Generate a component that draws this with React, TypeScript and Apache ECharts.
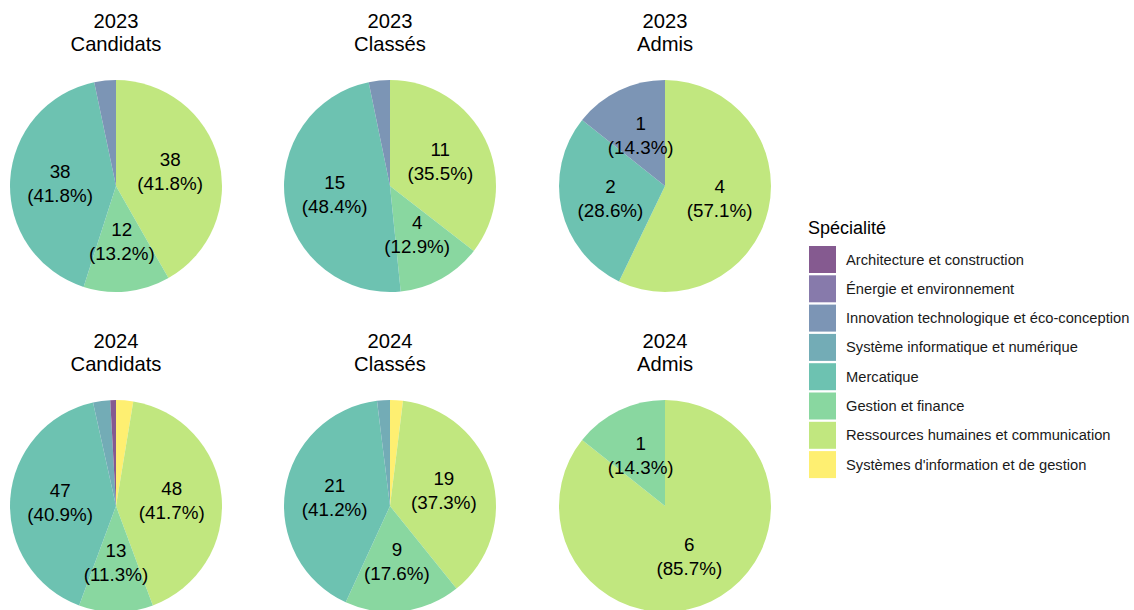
import React, { useEffect, useRef } from 'react';
import * as echarts from 'echarts';

// Categories in legend order
const categories = [
  'Architecture et construction',
  'Énergie et environnement',
  'Innovation technologique et éco-conception',
  'Système informatique et numérique',
  'Mercatique',
  'Gestion et finance',
  'Ressources humaines et communication',
  "Systèmes d'information et de gestion",
];
const categoryColors = ['#855A90', '#877AAB', '#7C95B5', '#73ACB6', '#6DC2B1', '#89D7A0', '#C1E77F', '#FEEF71'];

const panelYears = ['2023', '2023', '2023', '2024', '2024', '2024'];
const panelStages = ['Candidats', 'Classés', 'Admis', 'Candidats', 'Classés', 'Admis'];

// Values per panel, in legend (category) order
const candidats2023 = [0, 0, 3, 0, 38, 12, 38, 0];
const classes2023 = [0, 0, 1, 0, 15, 4, 11, 0];
const admis2023 = [0, 0, 1, 0, 2, 0, 4, 0];
const candidats2024 = [1, 0, 0, 3, 47, 13, 48, 3];
const classes2024 = [0, 0, 0, 1, 21, 9, 19, 1];
const admis2024 = [0, 0, 0, 0, 0, 1, 6, 0];
const panelValues = [candidats2023, classes2023, admis2023, candidats2024, classes2024, admis2024];

const labelMinShare = 0.05;
const legendTitle = 'Spécialité';

const FONT = '"Liberation Sans", Arial, Helvetica, sans-serif';

export default function App() {
  const ref = useRef<HTMLDivElement>(null);

  useEffect(() => {
    if (!ref.current) return;
    const chart = echarts.init(ref.current, null, { renderer: 'svg' });

    const colX = [116, 390, 665];
    const rowY = [186, 506];
    const radius = 106;

    const series: any[] = [];
    const titles: any[] = [];
    panelValues.forEach((vals, p) => {
      const cx = colX[p % 3];
      const cy = rowY[Math.floor(p / 3)];
      const total = vals.reduce((a, b) => a + b, 0);
      const order = categories.map((_, i) => i).reverse();
      const data = order.map((i) => {
        const share = total ? vals[i] / total : 0;
        return {
          name: categories[i],
          value: vals[i],
          itemStyle: { color: categoryColors[i] },
          label: {
            show: share >= labelMinShare,
            formatter: `${vals[i]}\n(${(share * 100).toFixed(1)}%)`,
          },
        };
      });
      series.push({
        type: 'pie',
        center: [cx, cy],
        radius: [0, radius],
        startAngle: 90,
        clockwise: true,
        avoidLabelOverlap: false,
        silent: true,
        itemStyle: { borderWidth: 0 },
        label: {
          position: 'inside',
          fontSize: 18.8,
          lineHeight: 24,
          color: '#000',
          fontFamily: FONT,
          align: 'center',
        },
        labelLine: { show: false },
        emphasis: { disabled: true },
        data,
      });
      titles.push({
        text: `${panelYears[p]}\n${panelStages[p]}`,
        left: cx,
        top: cy - 176,
        textAlign: 'center',
        padding: 0,
        textStyle: {
          fontSize: 20.2,
          fontWeight: 'normal',
          lineHeight: 22.5,
          color: '#000',
          fontFamily: FONT,
        },
      });
    });

    chart.setOption({
      animation: false,
      backgroundColor: '#fff',
      title: titles,
      legend: {
        orient: 'vertical',
        left: 809,
        top: 246,
        padding: 0,
        icon: 'rect',
        itemWidth: 27,
        itemHeight: 27,
        itemGap: 2.3,
        selectedMode: false,
        data: categories,
        textStyle: {
          fontSize: 14.7,
          color: '#1a1a1a',
          fontFamily: FONT,
          padding: [0, 0, 0, 5],
        },
      },
      graphic: [
        {
          type: 'text',
          x: 808,
          y: 227.8,
          style: {
            text: legendTitle,
            fontSize: 18,
            fill: '#000',
            fontFamily: FONT,
            verticalAlign: 'middle',
            textVerticalAlign: 'middle',
          },
        },
      ],
      series,
    });

    return () => chart.dispose();
  }, []);

  return (
    <div
      ref={ref}
      style={{ position: 'fixed', left: 0, top: 0, width: 1134, height: 610 }}
    />
  );
}
